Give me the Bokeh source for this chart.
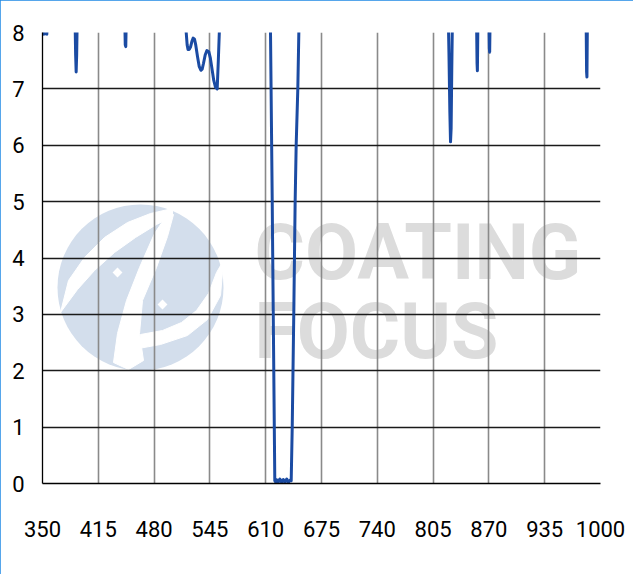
from bokeh.plotting import figure
from bokeh.models import Range1d, FixedTicker
from bokeh.core.properties import value
from bokeh.embed import file_html
from bokeh.resources import INLINE

# ---------------- data ----------------
x_ticks = [350, 415, 480, 545, 610, 675, 740, 805, 870, 935, 1000]
y_ticks = [0, 1, 2, 3, 4, 5, 6, 7, 8]

wavelength = [
    350, 351.5, 353, 355, 356.5,
    387.5, 388.6, 389.2, 389.8, 390.8,
    445.5, 446.4, 447.0, 447.9,
    516.5, 517.4, 518.5, 519.5, 521, 522.4, 524, 525.5, 527.1, 528.5, 530.5,
    532.5, 534.5, 536, 537.5, 539.5, 541.5, 543.7, 545.5, 547.5, 549.5, 551.5,
    553.5, 554.8, 556.2, 557.5,
    613.5, 615.6, 617.6, 619.1, 620.6, 621.5, 622.5, 624.5, 626.5, 628.5, 630.5,
    632.5, 634.5, 636.5, 638.5, 639.7, 640.9, 642.7, 644.3, 645.5, 647.4, 648.6, 650,
    822.3, 823.5, 824.5, 825.3, 826.0, 826.8, 827.8,
    855.4, 856.2, 856.6, 857.4,
    869.8, 870.5, 870.9, 871.6,
    983.1, 983.8, 984.2, 984.9,
    1000,
]
optical_density = [
    8.2, 7.97, 7.98, 7.97, 8.3,
    8.6, 7.6, 7.3, 7.6, 8.6,
    8.5, 7.78, 7.75, 8.5,
    8.4, 8.0, 7.78, 7.70, 7.70, 7.74, 7.84, 7.90, 7.88, 7.78, 7.58,
    7.40, 7.33, 7.35, 7.45, 7.60, 7.68, 7.66, 7.55, 7.35, 7.15, 7.03,
    7.00, 7.5, 8.1, 8.6,
    8.6, 8.0, 5.0, 2.5, 0.05, 0.03, 0.07, 0.02, 0.08, 0.02, 0.07,
    0.02, 0.08, 0.02, 0.06, 0.05, 1.0, 3.0, 5.0, 6.0, 7.0, 8.0, 8.6,
    8.6, 7.6, 6.6, 6.06, 6.3, 7.4, 8.6,
    8.5, 7.45, 7.32, 8.5,
    8.5, 7.72, 7.65, 8.5,
    8.5, 7.3, 7.21, 8.5,
    8.6,
]

watermark_lines = ["COATING", "FOCUS"]

# ---------------- figure ----------------
W, H = 633, 574
p = figure(width=W, height=H, output_backend="svg", toolbar_location=None,
           x_range=Range1d(350, 1000), y_range=Range1d(0, 8),
           min_border_left=42, min_border_right=33,
           min_border_top=32, min_border_bottom=91)
p.background_fill_color = "white"
p.border_fill_color = "white"
p.outline_line_color = None
p.styles = {"outline": "2px solid #1e88e5", "outline-offset": "-2px"}


def px(xp, yp):
    """page pixel position (reference layout) -> data coordinates"""
    return 350 + (xp - 42) * 650.0 / 558.0, (483 - yp) * 8.0 / 451.0


def poly(points):
    conv = [px(a, b) for a, b in points]
    return [c[0] for c in conv], [c[1] for c in conv]


# ---------------- watermark logo (under the grid) ----------------
cx, cy = px(140, 287)
p.circle(x=[cx], y=[cy], radius=83, radius_units="screen",
         fill_color="#d3deec", line_color=None, level="image")

white_shapes = [
    # outer left crescent
    [(172, 208), (150, 213), (127, 222), (104, 237), (84, 257), (68, 280),
     (60, 312), (77, 289), (94, 270), (114, 252), (135, 237), (156, 224), (172, 216)],
    # middle S band between the two blobs
    [(168, 212), (154, 233), (139, 267), (126, 300), (117, 333), (113, 362),
     (128, 369), (143, 360), (139, 333), (142, 300), (156, 267), (167, 236), (173, 214)],
    # right / lower crescent
    [(223, 260), (220, 295), (207, 319), (187, 335), (160, 344), (138, 348),
     (140, 334), (162, 330), (181, 322), (196, 310), (208, 293), (216, 272)],
]
xs, ys = zip(*[poly(s) for s in white_shapes])
p.patches(xs=list(xs), ys=list(ys), fill_color="white", line_color="white",
          line_width=1, level="image")

dx, dy = zip(px(117, 272), px(162, 304))
p.scatter(x=list(dx), y=list(dy), marker="square", size=7, angle=0.785398,
          fill_color="white", line_color=None, level="image")

tx, ty1 = px(254, 252)
_, ty2 = px(254, 331)
p.text(x=[tx, tx], y=[ty1, ty2], text=watermark_lines,
       text_font=value("Roboto"), text_font_style="bold",
       text_font_size="77px", text_color="#dcdcdc",
       text_align="left", text_baseline="alphabetic", level="image")

# ---------------- spectrum ----------------
p.line(wavelength, optical_density, line_color="#1b4ba3", line_width=3,
       line_join="round")

# ---------------- axes & grid ----------------
p.xaxis.ticker = FixedTicker(ticks=x_ticks)
p.yaxis.ticker = FixedTicker(ticks=y_ticks)
for ax in (p.xaxis, p.yaxis):
    ax.axis_line_color = "black"
    ax.axis_line_width = 1.3
    ax.major_tick_line_color = None
    ax.minor_tick_line_color = None
    ax.major_label_text_font = "Roboto"
    ax.major_label_text_font_size = "22px"
    ax.major_label_text_color = "black"
p.xaxis.major_label_standoff = 31
p.yaxis.major_label_standoff = 12

p.xgrid.grid_line_color = "#8a8a8a"
p.xgrid.grid_line_width = 1.6
p.ygrid.grid_line_color = "#1a1a1a"
p.ygrid.grid_line_width = 1.3

open("out.html", "w").write(file_html(p, INLINE))
